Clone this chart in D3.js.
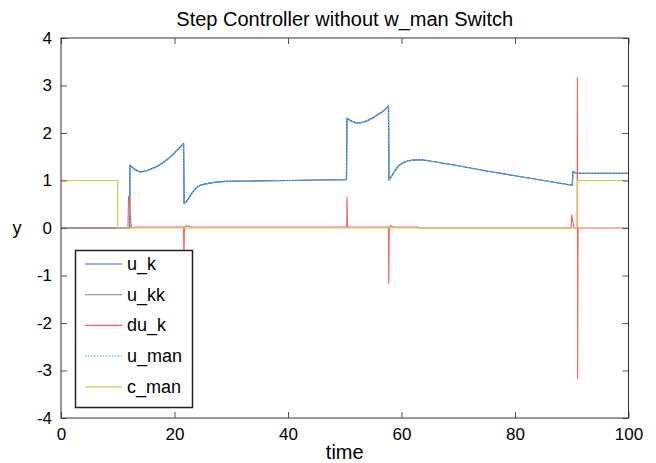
<!DOCTYPE html>
<html><head><meta charset="utf-8">
<script src="https://cdn.jsdelivr.net/npm/d3@7"></script>
<style>body{margin:0;background:#fff} text{font-family:"Liberation Sans",Arial,Helvetica,sans-serif;fill:#000}</style>
</head><body><svg id="c" width="656" height="463"></svg>
<script>
const title = "Step Controller without w_man Switch";
const xLabel = "time";
const yLabel = "y";
const xTicks = [0, 20, 40, 60, 80, 100];
const yTicks = [-4, -3, -2, -1, 0, 1, 2, 3, 4];
const seriesNames = ["u_k", "u_kk", "du_k", "u_man", "c_man"];

// [time, value]
const uK = [[0,0],[12.1,0],[12.15,1.32],[12.8,1.25],[13.5,1.2],[14,1.18],[15,1.2],[16,1.25],[17,1.3],[18,1.38],[19,1.47],[20,1.58],[21,1.7],[21.6,1.78],
  [21.7,0.52],[22,0.54],[22.5,0.63],[23,0.72],[23.5,0.8],[24,0.86],[24.5,0.9],[25.5,0.93],[27,0.96],[29,0.98],[33,0.99],[40,1.0],[45,1.01],[50.3,1.02],
  [50.4,2.31],[51,2.26],[52,2.21],[53,2.22],[54,2.26],[55,2.32],[56,2.4],[57,2.48],[57.7,2.57],
  [57.8,1.01],[58.3,1.1],[58.9,1.22],[59.5,1.31],[60.2,1.37],[61,1.41],[62,1.43],[63.3,1.44],[65,1.41],[70,1.31],[75,1.2],[80,1.1],[85,1.0],[90.1,0.9],
  [90.2,1.19],[90.9,1.15],[100,1.15]];
const uKK = uK;
const uMan = uK;
const duK = [[0,0],[11.8,0],[11.9,0.67],[12.4,0],[13,0.02],[21.6,0.02],[21.65,-0.78],[21.75,0],[22,0.04],[22.5,0.04],[22.8,0.02],
  [50.35,0.02],[50.4,0.65],[50.5,0.02],[57.7,0.02],[57.75,-1.16],[57.85,0],[58.1,0.05],[58.5,0.02],[63,0.02],[63.1,0],
  [89.9,0],[90,0.27],[90.4,0],[90.95,0],[91,3.16],[91.05,-3.17],[91.1,0],[100,0]];
const cMan = [[0,1],[10,1],[10,0],[91,0],[91,1],[100,1]];

const colors = {u_k:"#3d5cc4", u_kk:"#9a9a9a", du_k:"#ff5a5a", u_man:"#5cc8d2", c_man:"#cccc55"};

const svg = d3.select("#c");
const L = 61, R = 628.5, T = 38, B = 418;
const x = d3.scaleLinear().domain([0,100]).range([L,R]);
const y = d3.scaleLinear().domain([-4,4]).range([B,T]);

svg.append("defs").append("clipPath").attr("id","clip").append("rect")
  .attr("x",L).attr("y",T).attr("width",R-L).attr("height",B-T);

const line = d3.line().x(d=>x(d[0])).y(d=>y(d[1]));
const g = svg.append("g").attr("clip-path","url(#clip)");
const draw = (data, c, w, dash) => {
  const p = g.append("path").datum(data).attr("d", line).attr("fill","none")
    .attr("stroke", c).attr("stroke-width", w).attr("stroke-linejoin","round");
  if (dash) p.attr("stroke-dasharray", dash);
};
draw(uKK, colors.u_kk, 1.2);
draw(uK, colors.u_k, 1.2);
draw(duK, colors.du_k, 1.1);
draw(uMan, colors.u_man, 1.2, "1.5,1.5");
draw(cMan, colors.c_man, 1.2);

// axes
const fs = 17;
const ax = svg.append("g").attr("transform",`translate(0,${B})`)
  .call(d3.axisBottom(x).tickValues(xTicks).tickSize(-6).tickPadding(10).tickFormat(d3.format("d")));
const axT = svg.append("g").attr("transform",`translate(0,${T})`)
  .call(d3.axisTop(x).tickValues(xTicks).tickSize(-6).tickFormat(""));
const ay = svg.append("g").attr("transform",`translate(${L},0)`)
  .call(d3.axisLeft(y).tickValues(yTicks).tickSize(-6).tickPadding(9).tickFormat(d3.format("d")));
const ayR = svg.append("g").attr("transform",`translate(${R},0)`)
  .call(d3.axisRight(y).tickValues(yTicks).tickSize(-6).tickFormat(""));
[ax,axT,ay,ayR].forEach(a=>{
  a.selectAll(".domain").remove();
  a.selectAll(".tick line").attr("stroke","#555");
  a.selectAll("text").style("font-size",fs+"px").attr("fill","#000");
});
ay.selectAll("text").text(d=>d<0 ? "-"+Math.abs(d) : d);
svg.append("rect").attr("x",L).attr("y",T).attr("width",R-L).attr("height",B-T)
  .attr("fill","none").attr("stroke","#333").attr("stroke-width",1);

svg.append("text").attr("x",(L+R)/2).attr("y",26).attr("text-anchor","middle").style("font-size","20px").text(title);
svg.append("text").attr("x",(L+R)/2).attr("y",459).attr("text-anchor","middle").style("font-size","20px").text(xLabel);
svg.append("text").attr("x",17).attr("y",234).attr("text-anchor","middle").style("font-size","18px").text(yLabel);

// legend
const lg = svg.append("g");
lg.append("rect").attr("x",75.5).attr("y",250.5).attr("width",117).attr("height",157)
  .attr("fill","#fff").attr("stroke","#222").attr("stroke-width",1.5);
const lgData = [[seriesNames[0],colors.u_k,null],[seriesNames[1],colors.u_kk,null],[seriesNames[2],colors.du_k,null],[seriesNames[3],colors.u_man,"1.5,1.5"],[seriesNames[4],colors.c_man,null]];
lgData.forEach((d,i)=>{
  const yy = 264 + i*30.7;
  const l = lg.append("line").attr("x1",85).attr("x2",122).attr("y1",yy).attr("y2",yy)
    .attr("stroke",d[1]).attr("stroke-width",1.2);
  if (d[2]) l.attr("stroke-dasharray",d[2]);
  lg.append("text").attr("x",127).attr("y",yy+6).style("font-size","18px").text(d[0]);
});
</script></body></html>
